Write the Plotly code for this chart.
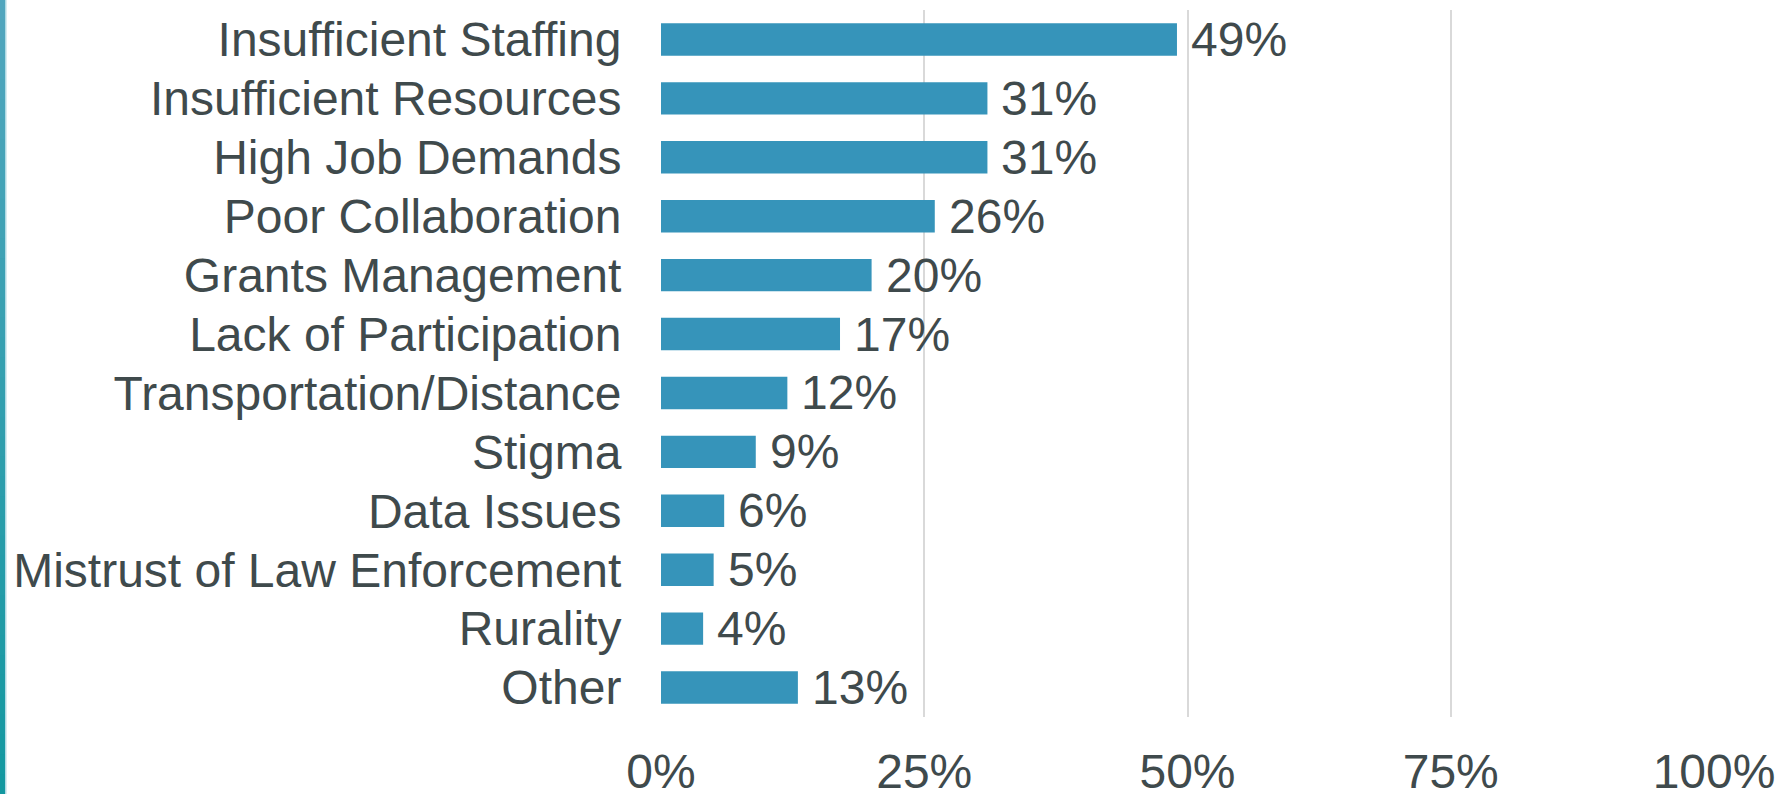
import plotly.graph_objects as go

# Survey results: share of respondents citing each challenge
categories = [
    "Insufficient Staffing",
    "Insufficient Resources",
    "High Job Demands",
    "Poor Collaboration",
    "Grants Management",
    "Lack of Participation",
    "Transportation/Distance",
    "Stigma",
    "Data Issues",
    "Mistrust of Law Enforcement",
    "Rurality",
    "Other",
]
percent = [49, 31, 31, 26, 20, 17, 12, 9, 6, 5, 4, 13]
x_ticks = [0, 25, 50, 75, 100]
x_tick_labels = ["0%", "25%", "50%", "75%", "100%"]

W, H = 1779, 794
M_L, M_R, M_T, M_B = 661, 65, 10, 77
BAR_COLOR = "#3694BA"
TEXT_COLOR = "#3F4A4C"
FONT = "Liberation Sans, Arial, sans-serif"
FONT_SIZE = 48

fig = go.Figure(
    go.Bar(
        x=percent,
        y=categories,
        orientation="h",
        marker=dict(color=BAR_COLOR, line=dict(width=0)),
        hoverinfo="skip",
    )
)

# Value labels to the right of each bar
for cat, val in zip(categories, percent):
    fig.add_annotation(
        x=val, y=cat, text=f"{val}%", showarrow=False,
        xanchor="left", yanchor="middle", xshift=12,
        font=dict(family=FONT, size=FONT_SIZE, color=TEXT_COLOR),
    )

# Decorative vertical stripe along the left page edge (teal gradient)
plot_w = W - M_L - M_R
plot_h = H - M_T - M_B
def px_to_paper_x(px):
    return (px - M_L) / plot_w
def px_to_paper_y(py):
    return 1 - (py - M_T) / plot_h

top_rgb = (82, 166, 190)
bot_rgb = (18, 152, 160)
n_slices = 40
for i in range(n_slices):
    t = (i + 0.5) / n_slices
    c = tuple(round(a + (b - a) * t) for a, b in zip(top_rgb, bot_rgb))
    y0 = H * i / n_slices
    y1 = H * (i + 1) / n_slices + 1
    fig.add_shape(
        type="rect", xref="paper", yref="paper", layer="above",
        x0=px_to_paper_x(0), x1=px_to_paper_x(5),
        y0=px_to_paper_y(y1), y1=px_to_paper_y(y0),
        fillcolor=f"rgb{c}", line=dict(width=0),
    )
fig.add_shape(
    type="rect", xref="paper", yref="paper", layer="above",
    x0=px_to_paper_x(5), x1=px_to_paper_x(6.5),
    y0=px_to_paper_y(H), y1=px_to_paper_y(0),
    fillcolor="rgb(175,218,228)", line=dict(width=0),
)

fig.update_layout(
    width=W, height=H,
    margin=dict(l=M_L, r=M_R, t=M_T, b=M_B, pad=0, autoexpand=False),
    paper_bgcolor="white", plot_bgcolor="white",
    bargap=0.45,
    showlegend=False,
    font=dict(family=FONT, size=FONT_SIZE, color=TEXT_COLOR),
    xaxis=dict(
        range=[0, 100],
        tickvals=x_ticks, ticktext=x_tick_labels,
        showgrid=True, gridcolor="#D9D9D9", gridwidth=2,
        zeroline=False, showline=False,
        ticks="outside", ticklen=12, tickcolor="rgba(0,0,0,0)",
        tickfont=dict(family=FONT, size=FONT_SIZE, color=TEXT_COLOR),
        automargin=False, fixedrange=True,
    ),
    yaxis=dict(
        autorange="reversed",
        showgrid=False, zeroline=False, showline=False,
        ticks="outside", ticklen=29, tickcolor="rgba(0,0,0,0)",
        tickfont=dict(family=FONT, size=FONT_SIZE, color=TEXT_COLOR),
        automargin=False, fixedrange=True,
    ),
)

fig.write_html("out.html", config={"displayModeBar": False})
